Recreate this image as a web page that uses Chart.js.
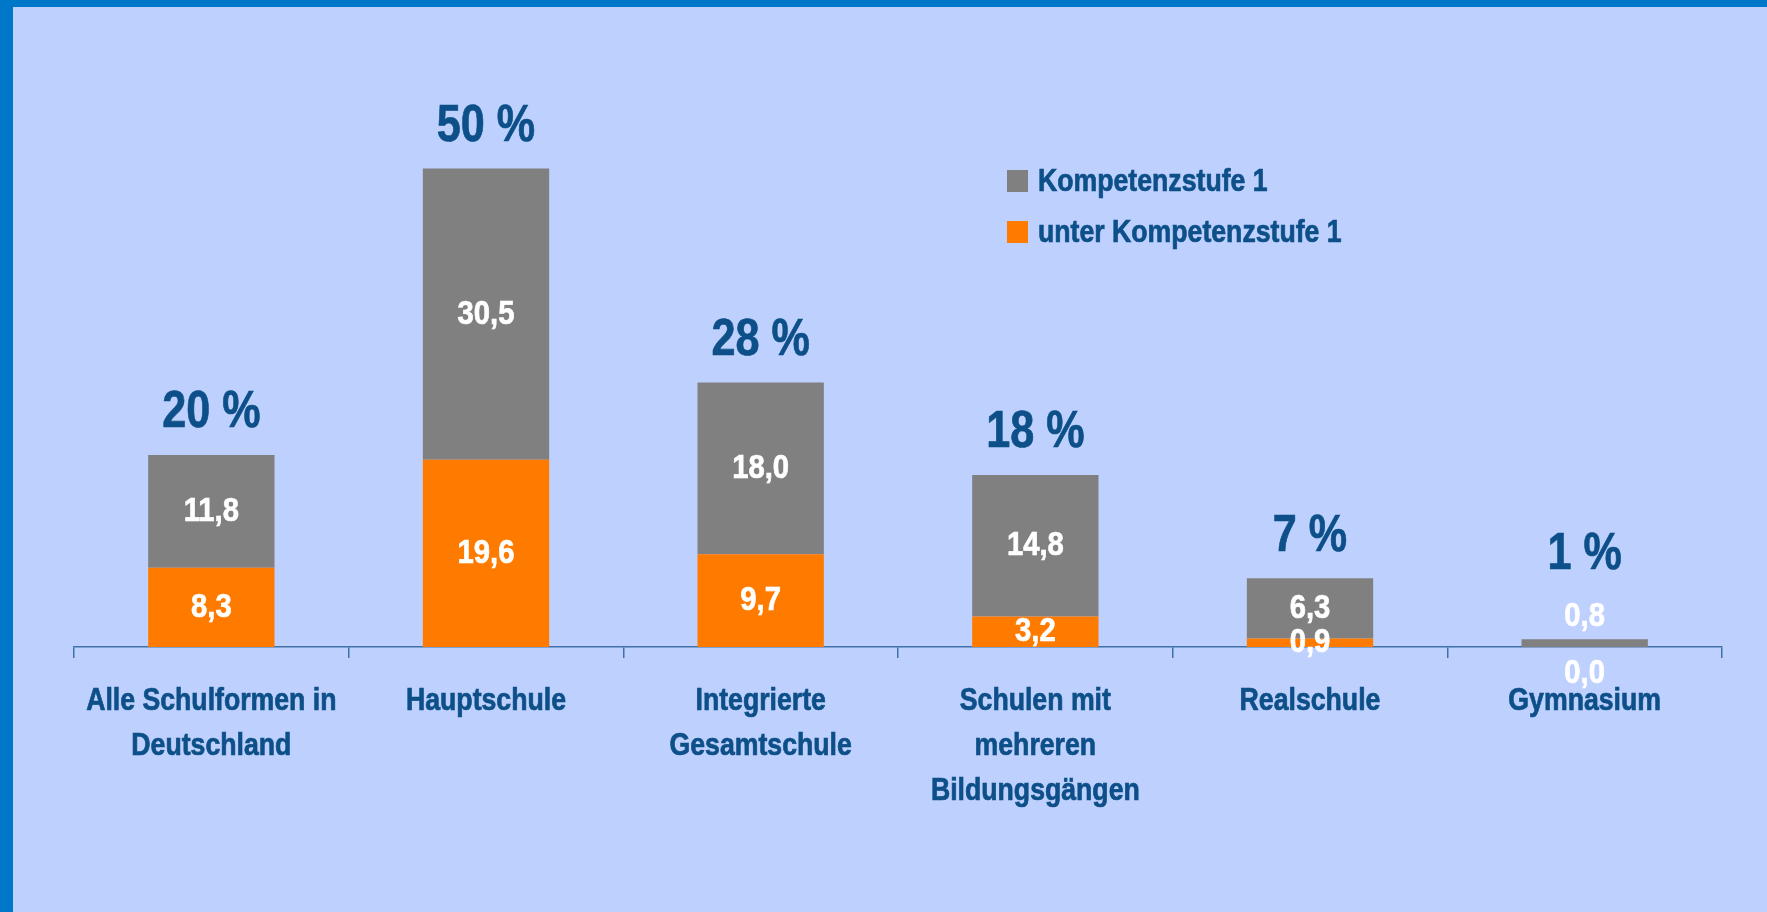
<!DOCTYPE html>
<html>
<head>
<meta charset="utf-8">
<script src="https://cdn.jsdelivr.net/npm/chart.js@4"></script>
<style>
	html, body { margin: 0; padding: 0; }
	body { background: #0077c8; width: 1767px; height: 912px; overflow: hidden; }
	#wrap { position: absolute; left: 13px; top: 7px; width: 1754px; height: 905px; background: #bed0fd; }
</style>
</head>
<body>
<div id="wrap"><canvas id="chart" width="1754" height="905"></canvas></div>
<script>
// Schulformen
const categories = [
	['Alle Schulformen in', 'Deutschland'],
	'Hauptschule',
	['Integrierte', 'Gesamtschule'],
	['Schulen mit', 'mehreren', 'Bildungsgängen'],
	'Realschule',
	'Gymnasium',
];
const unterStufe1 = [8.3, 19.6, 9.7, 3.2, 0.9, 0.0];
const stufe1 = [11.8, 30.5, 18.0, 14.8, 6.3, 0.8];

const FONT = '"Liberation Sans", Arial, sans-serif';
const TEXT_BLUE = '#0d4f88';

const fmt = (v) => v.toFixed(1).replace('.', ',');

// draw bold text squeezed horizontally (Arial Narrow look)
function narrowText(ctx, text, x, y, size, squeeze) {
	ctx.save();
	ctx.font = 'bold ' + size + 'px ' + FONT;
	ctx.translate(x, y);
	ctx.scale(squeeze || 0.86, 1);
	ctx.strokeStyle = ctx.fillStyle;
	ctx.lineWidth = 0.7;
	ctx.fillText(text, 0, 0);
	ctx.strokeText(text, 0, 0);
	ctx.restore();
}

// value labels, totals, category labels and the legend
const labelPlugin = {
	id: 'labels',
	afterDatasetsDraw(chart) {
		const ctx = chart.ctx;
		const metas = chart.data.datasets.map((d, i) => chart.getDatasetMeta(i));
		const last = metas.length - 1;
		ctx.save();
		ctx.textAlign = 'center';
		ctx.textBaseline = 'middle';

		// segment values
		const raised = [];
		ctx.fillStyle = '#ffffff';
		metas.forEach((meta, di) => {
			meta.data.forEach((bar, i) => {
				const v = chart.data.datasets[di].data[i];
				const h = Math.abs(bar.base - bar.y);
				let y = (bar.y + bar.base) / 2;
				if (v === 0) y = bar.base + 27;
				else if (di === last && h < 20) {
					y = bar.y - 23;
					raised[i] = true;
				}
				narrowText(ctx, fmt(v), bar.x, y, 34);
			});
		});

		// totals
		ctx.fillStyle = TEXT_BLUE;
		metas[last].data.forEach((bar, i) => {
			const total = chart.data.datasets.reduce((s, d) => s + d.data[i], 0);
			const off = raised[i] ? 85 : 42;
			narrowText(ctx, Math.round(total) + ' %', bar.x, bar.y - off, 52, 0.83);
		});

		// category labels
		const xs = chart.scales.x;
		const base = chart.chartArea.bottom + 54;
		categories.forEach((c, i) => {
			const lines = Array.isArray(c) ? c : [c];
			const x = xs.getPixelForTick(i);
			lines.forEach((t, li) => narrowText(ctx, t, x, base + li * 45, 31));
		});

		// legend (top dataset first)
		ctx.textAlign = 'left';
		const ds = chart.data.datasets.slice().reverse();
		ds.forEach((d, i) => {
			const y = 163 + i * 51;
			ctx.fillStyle = d.backgroundColor;
			ctx.fillRect(994, y, 21, 22);
			ctx.fillStyle = TEXT_BLUE;
			narrowText(ctx, d.label, 1025, y + 12, 31);
		});
		ctx.restore();
	},
};

new Chart(document.getElementById('chart').getContext('2d'), {
	type: 'bar',
	data: {
		labels: categories,
		datasets: [
			{
				label: 'unter Kompetenzstufe 1',
				data: unterStufe1,
				backgroundColor: '#ff7b00',
			},
			{
				label: 'Kompetenzstufe 1',
				data: stufe1,
				backgroundColor: '#808080',
			},
		],
	},
	options: {
		responsive: false,
		animation: false,
		categoryPercentage: 1,
		barPercentage: 0.46,
		layout: { padding: { top: 67, left: 61, right: 45, bottom: 0 } },
		plugins: {
			legend: { display: false },
			tooltip: { enabled: false },
		},
		scales: {
			x: {
				stacked: true,
				afterFit: (s) => { s.height = 265; },
				border: { color: '#3f72a8', width: 1.5 },
				grid: {
					offset: true,
					drawOnChartArea: false,
					drawTicks: true,
					tickLength: 11,
					color: '#3f72a8',
					lineWidth: 1.5,
				},
				ticks: { display: false },
			},
			y: {
				stacked: true,
				display: false,
				min: 0,
				max: 60,
			},
		},
	},
	plugins: [labelPlugin],
});
</script>
</body>
</html>
